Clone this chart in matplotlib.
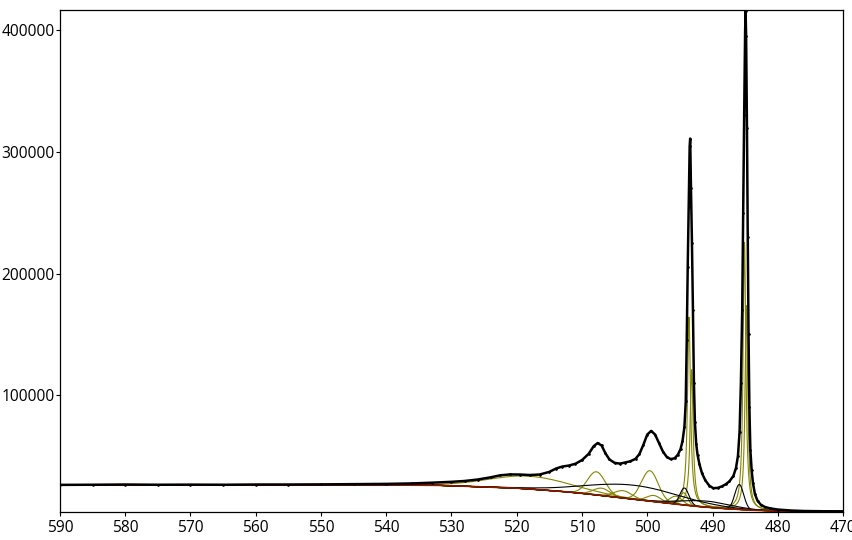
import numpy as np
import matplotlib.pyplot as plt

# measured spectrum (wavelength nm, counts)
wl_total = [590, 585, 580, 575, 570, 565, 560, 555, 550, 545, 540, 536, 533, 530,
            528, 526, 524, 522.5, 521, 519.5, 518, 516.5, 515, 514, 513, 512, 511,
            510, 509, 508.2, 507.6, 507, 506.4, 505.8, 505, 504.2, 503.4, 502.6,
            501.8, 501.2, 500.6, 500, 499.4, 498.8, 498.2, 497.6, 497, 496.4, 495.8,
            495.3, 494.9, 494.6, 494.3, 494.1, 493.95, 493.8, 493.65, 493.5, 493.42,
            493.3, 493.15, 493.0, 492.85, 492.7, 492.5, 492.3, 492.0, 491.6, 491.1,
            490.5, 489.9, 489.2, 488.6, 488.0, 487.4, 486.8, 486.4, 486.1, 485.85,
            485.65, 485.45, 485.3, 485.15, 485.0, 484.93, 484.85, 484.72, 484.6,
            484.48, 484.35, 484.2, 484.0, 483.8, 483.5, 483.1, 482.6, 482, 481.2,
            480, 478, 476, 473, 470]
counts_total = [26100, 26200, 26400, 26200, 26300, 26200, 26400, 26400, 26500, 26700,
                26900, 27300, 27900, 28600, 29300, 30500, 32300, 34000, 34700, 34600,
                34200, 34600, 36800, 39500, 41200, 42000, 43500, 46500, 51500, 58000,
                60500, 58500, 52000, 47000, 44200, 43600, 44500, 45500, 47500, 51500,
                59000, 67500, 70500, 67500, 60500, 53500, 49000, 47300, 48000, 51000,
                55500, 62000, 74000, 95000, 145000, 205000, 255000, 305000, 311000,
                270000, 225000, 170000, 110000, 78000, 60000, 51000, 43000, 35500,
                29800, 25500, 23400, 23600, 24800, 26500, 29000, 33500, 40000, 50000,
                70000, 110000, 170000, 250000, 330000, 400000, 416000, 395000, 320000,
                230000, 150000, 90000, 55000, 38000, 27500, 18500, 13000, 9800, 8000,
                6800, 5800, 5000, 4600, 4400, 4300]

# background
wl_base = [590, 560, 540, 532, 528, 524, 520, 516, 512, 508, 504, 500, 496, 492,
           488, 484, 480, 476, 470]
counts_base = [26000, 26000, 26000, 25700, 25000, 24200, 23400, 21900, 20200, 18000,
               15500, 13000, 10500, 8200, 6500, 5300, 4600, 4300, 4200]

# fitted components: centre, height above background, fwhm, shape
olive_center = [518, 507.8, 507.0, 503.7, 499.6, 499.0, 495.6, 494.4, 493.6, 493.2, 485.1, 484.8]
olive_height = [10500, 19000, 6000, 6000, 25000, 5000, 6500, 10000, 155000, 112000, 220000, 168000]
olive_fwhm = [15, 3.2, 3.0, 3.2, 3.0, 2.5, 2.2, 1.4, 0.55, 0.55, 0.5, 0.5]
olive_shape = ["G", "G", "G", "G", "G", "G", "G", "G", "L", "L", "L", "L"]

black_center = [502, 491, 494.3, 485.9]
black_height = [11500, 5000, 14000, 20500]
black_fwhm = [17, 9, 1.6, 1.6]
black_shape = ["G", "G", "G", "G"]


def peak(x, c, h, w, shape):
    if shape == "L":
        return h / (1 + (2 * (x - c) / w) ** 2)
    s = w / 2.3548
    return h * np.exp(-(x - c) ** 2 / (2 * s ** 2))


fig = plt.figure(figsize=(8.53, 5.40), dpi=100)
ax = fig.add_axes([0.0703, 0.0519, 0.918, 0.9296])

x = np.linspace(470, 590, 8001)
bg = np.interp(x, wl_base[::-1], counts_base[::-1])

for c, h, w, s in zip(olive_center, olive_height, olive_fwhm, olive_shape):
    ax.plot(x, bg + peak(x, c, h, w, s), color="#858500", lw=0.8)
for c, h, w, s in zip(black_center, black_height, black_fwhm, black_shape):
    ax.plot(x, bg + peak(x, c, h, w, s), color="black", lw=0.8)

ax.plot(wl_base, counts_base, color="#8b1a00", lw=1.2)
ax.plot(wl_total, counts_total, color="black", lw=1.8, marker=".", ms=1.8)

ax.set_xlim(590, 470)
ax.set_ylim(3800, 416800)
ax.set_xticks(np.arange(590, 469, -10))
ax.set_yticks([100000, 200000, 300000, 400000])
ax.set_yticklabels(["100000", "200000", "300000", "400000"])
for lab in ax.get_xticklabels() + ax.get_yticklabels():
    lab.set_fontfamily("Open Sans")
    lab.set_fontsize(11.2)
ax.tick_params(direction="out", length=3, width=0.8, pad=1)
ax.tick_params(axis="x", pad=3)
for sp in ax.spines.values():
    sp.set_linewidth(0.9)

fig.savefig("out.png", dpi=100)
